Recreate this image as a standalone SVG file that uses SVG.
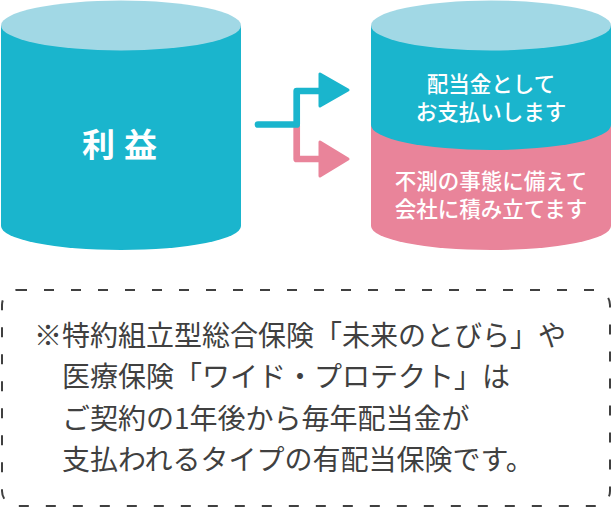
<svg xmlns="http://www.w3.org/2000/svg" width="612" height="508" viewBox="0 0 612 508">
<style>
.teal{fill:#1ab5cd}
.light{fill:#a1d8e5}
.pink{fill:#e9849a}
.w{fill:#ffffff;font-family:"Noto Sans CJK JP","Noto Sans",sans-serif;font-weight:500;font-size:21.5px;text-anchor:middle}
.note{fill:#404040;font-family:"Noto Sans CJK JP","Noto Sans",sans-serif;font-weight:400;font-size:28px}
</style>
<rect width="612" height="508" fill="#ffffff"/>
<g id="profit">
<path class="teal" d="M1,25.5 V226 A120,24 0 0 0 241,226 V25.5 Z"/>
<ellipse class="light" cx="121" cy="25.5" rx="120" ry="25"/>
<text x="82 124" y="156.5" fill="#ffffff" font-family="'Noto Sans CJK JP','Noto Sans',sans-serif" font-weight="700" font-size="33">利益</text>
</g>
<g id="split">
<path class="pink" d="M371,125 V226 A120,24 0 0 0 611,226 V125 Z"/>
<path class="teal" d="M371,25.5 V125 A120,25 0 0 0 611,125 V25.5 Z"/>
<ellipse class="light" cx="491" cy="25.5" rx="120" ry="25"/>
<g id="dividend">
<text class="w" x="491" y="91.5">配当金として</text>
<text class="w" x="491" y="120">お支払いします</text>
</g>
<g id="reserve">
<text class="w" x="491" y="189">不測の事態に備えて</text>
<text class="w" x="491" y="217">会社に積み立てます</text>
</g>
</g>
<g id="connectors" fill="none" stroke-linecap="round" stroke-linejoin="round">
<path d="M296.7,126 V159 H325" stroke="#e9849a" stroke-width="6.7"/>
<polygon points="320,142 320,176 348,159" fill="#e9849a" stroke="#e9849a" stroke-width="3"/>
<path d="M258,124.5 H296.7 V91 H325" stroke="#1ab5cd" stroke-width="6.7"/>
<polygon points="320,74 320,106 348,90" fill="#1ab5cd" stroke="#1ab5cd" stroke-width="3"/>
</g>
<g id="note">
<rect x="2" y="290" width="608" height="216" rx="15" ry="15" fill="none" stroke="#404040" stroke-width="2" stroke-dasharray="10 17"/>
<text class="note" x="34" y="345.5">※特約組立型総合保険「未来のとびら」や</text>
<text class="note" x="62" y="387">医療保険「ワイド・プロテクト」は</text>
<text class="note" x="62" y="428.5">ご契約の1年後から毎年配当金が</text>
<text class="note" x="62" y="470">支払われるタイプの有配当保険です。</text>
</g>
</svg>
